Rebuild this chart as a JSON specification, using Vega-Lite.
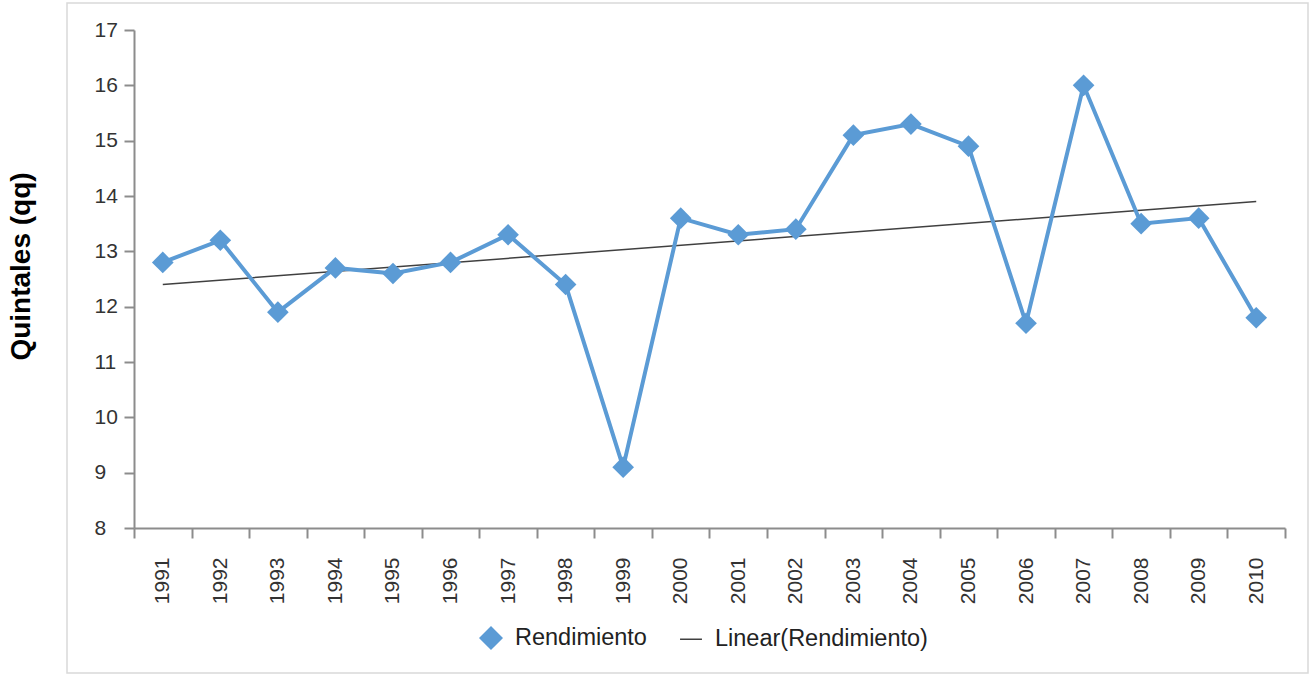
{
  "$schema": "https://vega.github.io/schema/vega-lite/v6.json",
  "autosize": {"type": "none"},
  "width": 1241,
  "height": 670,
  "padding": {"left": 67, "top": 3, "right": 2, "bottom": 2},
  "background": "white",
  "config": {
    "font": "Liberation Sans",
    "view": {"stroke": "#d9d9d9", "strokeWidth": 1.5}
  },
  "datasets": {
    "main": [
      {"year": "1991", "value": 12.8, "series": "Rendimiento"},
      {"year": "1992", "value": 13.2, "series": "Rendimiento"},
      {"year": "1993", "value": 11.9, "series": "Rendimiento"},
      {"year": "1994", "value": 12.7, "series": "Rendimiento"},
      {"year": "1995", "value": 12.6, "series": "Rendimiento"},
      {"year": "1996", "value": 12.8, "series": "Rendimiento"},
      {"year": "1997", "value": 13.3, "series": "Rendimiento"},
      {"year": "1998", "value": 12.4, "series": "Rendimiento"},
      {"year": "1999", "value": 9.1, "series": "Rendimiento"},
      {"year": "2000", "value": 13.6, "series": "Rendimiento"},
      {"year": "2001", "value": 13.3, "series": "Rendimiento"},
      {"year": "2002", "value": 13.4, "series": "Rendimiento"},
      {"year": "2003", "value": 15.1, "series": "Rendimiento"},
      {"year": "2004", "value": 15.3, "series": "Rendimiento"},
      {"year": "2005", "value": 14.9, "series": "Rendimiento"},
      {"year": "2006", "value": 11.7, "series": "Rendimiento"},
      {"year": "2007", "value": 16.0, "series": "Rendimiento"},
      {"year": "2008", "value": 13.5, "series": "Rendimiento"},
      {"year": "2009", "value": 13.6, "series": "Rendimiento"},
      {"year": "2010", "value": 11.8, "series": "Rendimiento"}
    ],
    "trend": [
      {"year": "1991", "value": 12.4, "series": "Linear(Rendimiento)"},
      {"year": "2010", "value": 13.9, "series": "Linear(Rendimiento)"}
    ]
  },
  "encoding": {
    "x": {
      "field": "year",
      "type": "ordinal",
      "bandPosition": 0.5,
      "scale": {"type": "band", "range": [67, 1218], "paddingInner": 0, "paddingOuter": 0},
      "axis": {
        "title": null,
        "offset": -145,
        "tickBand": "extent",
        "tickSize": 10,
        "tickColor": "#8c8c8c",
        "tickWidth": 2,
        "domainColor": "#8c8c8c",
        "domainWidth": 2,
        "labelAngle": -90,
        "labelPadding": 19,
        "labelFontSize": 21,
        "labelColor": "#333333",
        "grid": false
      }
    },
    "y": {
      "field": "value",
      "type": "quantitative",
      "scale": {"domain": [8, 17], "range": [525, 27], "nice": false, "zero": false},
      "axis": {
        "offset": -67,
        "values": [8, 9, 10, 11, 12, 13, 14, 15, 16, 17],
        "tickSize": 10,
        "tickColor": "#8c8c8c",
        "tickWidth": 2,
        "domainColor": "#8c8c8c",
        "domainWidth": 2,
        "labelAlign": "left",
        "labelPadding": 30,
        "labelFontSize": 21,
        "labelColor": "#333333",
        "grid": false,
        "title": "Quintales (qq)",
        "titleFontSize": 28,
        "titleFontWeight": "bold",
        "titleColor": "#000000",
        "titleAngle": -90,
        "titleAlign": "center",
        "titleBaseline": "middle",
        "titleX": -113,
        "titleY": 263
      }
    },
    "color": {
      "field": "series",
      "type": "nominal",
      "scale": {"domain": ["Rendimiento", "Linear(Rendimiento)"], "range": ["#5b9bd5", "#404040"]},
      "legend": {
        "title": null,
        "orient": "none",
        "legendX": 412,
        "legendY": 623,
        "direction": "horizontal",
        "labelFontSize": 23.5,
        "labelColor": "#222222",
        "labelLimit": 0,
        "symbolSize": 480,
        "columnPadding": 30,
        "labelOffset": 12,
        "encode": {
          "symbols": {
            "update": {
              "stroke": {"scale": "color", "field": "value"},
              "strokeWidth": {"value": 1.5}
            }
          }
        }
      }
    }
  },
  "layer": [
    {
      "data": {"name": "trend"},
      "mark": {"type": "line", "strokeWidth": 1.5}
    },
    {
      "data": {"name": "main"},
      "mark": {"type": "line", "strokeWidth": 4}
    },
    {
      "data": {"name": "main"},
      "mark": {"type": "point", "filled": true, "opacity": 1, "size": 470},
      "encoding": {
        "shape": {
          "field": "series",
          "type": "nominal",
          "scale": {"domain": ["Rendimiento", "Linear(Rendimiento)"], "range": ["diamond", "stroke"]},
          "legend": {
            "title": null,
            "orient": "none",
            "legendX": 412,
            "legendY": 623,
            "direction": "horizontal",
            "labelFontSize": 23.5,
            "labelColor": "#222222",
            "labelLimit": 0,
            "symbolSize": 480,
            "columnPadding": 30,
            "labelOffset": 12,
            "encode": {
              "symbols": {
                "update": {
                  "stroke": {"scale": "color", "field": "value"},
                  "strokeWidth": {"value": 1.5}
                }
              }
            }
          }
        }
      }
    }
  ]
}
